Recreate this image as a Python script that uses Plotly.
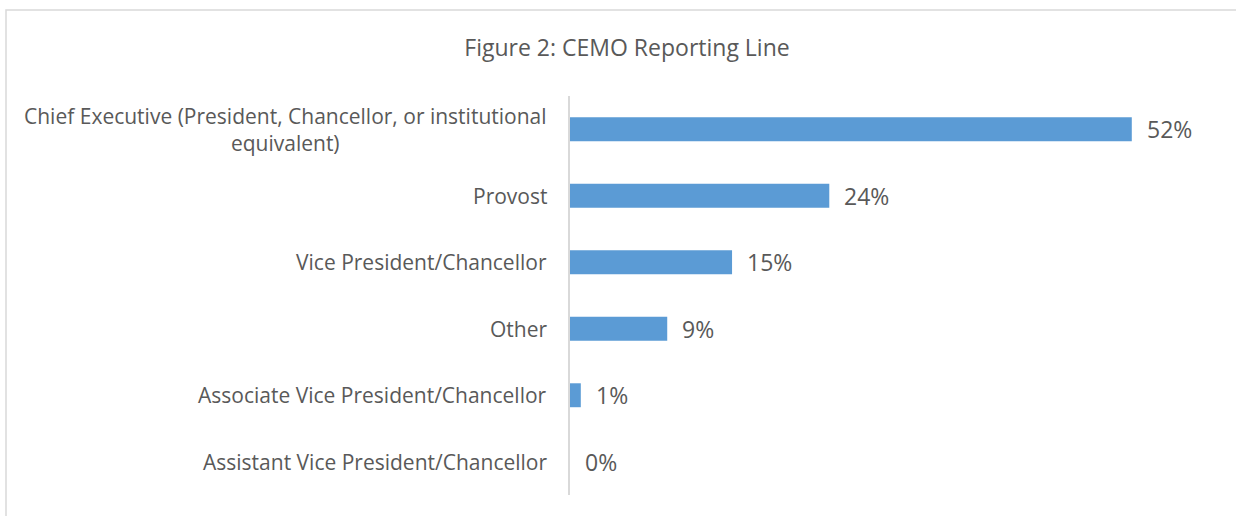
import plotly.graph_objects as go

categories = [
    "Chief Executive (President, Chancellor, or institutional<br>equivalent)",
    "Provost",
    "Vice President/Chancellor",
    "Other",
    "Associate Vice President/Chancellor",
    "Assistant Vice President/Chancellor",
]
values = [52, 24, 15, 9, 1, 0]
title_text = "Figure 2: CEMO Reporting Line"

W, H = 1236, 516
ML, MR, MT, MB = 570, 61, 96, 21
pw = W - ML - MR
ph = H - MT - MB

FONT = "Open Sans"
TXT = "#595959"

fig = go.Figure()
fig.add_trace(go.Bar(
    x=values, y=list(range(len(categories))), orientation="h",
    marker=dict(color="#5B9BD5", line=dict(width=0)),
    width=0.36, hoverinfo="skip",
))

ann = []
for i, (c, v) in enumerate(zip(categories, values)):
    ann.append(dict(x=0, xref="paper", y=i, yref="y", text=c, showarrow=False,
                    xanchor="right", yanchor="middle", align="center", xshift=-21,
                    font=dict(family=FONT, size=21, color=TXT)))
    ann.append(dict(x=v, xref="x", y=i, yref="y", text=f"{v}%", showarrow=False,
                    xanchor="left", yanchor="middle", xshift=13,
                    font=dict(family=FONT, size=23, color=TXT)))

def px_x(p):
    return (p - ML) / pw

def px_y(p):
    return 1 - (p - MT) / ph

fig.update_layout(
    width=W, height=H,
    margin=dict(l=ML, r=MR, t=MT, b=MB),
    paper_bgcolor="white", plot_bgcolor="white",
    showlegend=False,
    title=dict(text=title_text, x=627 / W, xanchor="center", y=1 - 48 / H, yanchor="middle",
               font=dict(family=FONT, size=23, color=TXT)),
    xaxis=dict(range=[0, 56], visible=False, fixedrange=True),
    yaxis=dict(range=[len(categories) - 0.5, -0.5], showticklabels=False, ticks="",
               showgrid=False, zeroline=False, showline=True, linecolor="#D9D9D9", linewidth=1.5,
               fixedrange=True),
    annotations=ann,
    shapes=[dict(type="rect", xref="paper", yref="paper",
                 x0=px_x(6), x1=px_x(1250), y0=px_y(10), y1=px_y(530),
                 line=dict(color="#D9D9D9", width=1.5), layer="below")],
)

fig.write_html("out.html", config={"displayModeBar": False},
               post_script="document.body.style.margin='0';document.body.style.overflow='hidden';")
